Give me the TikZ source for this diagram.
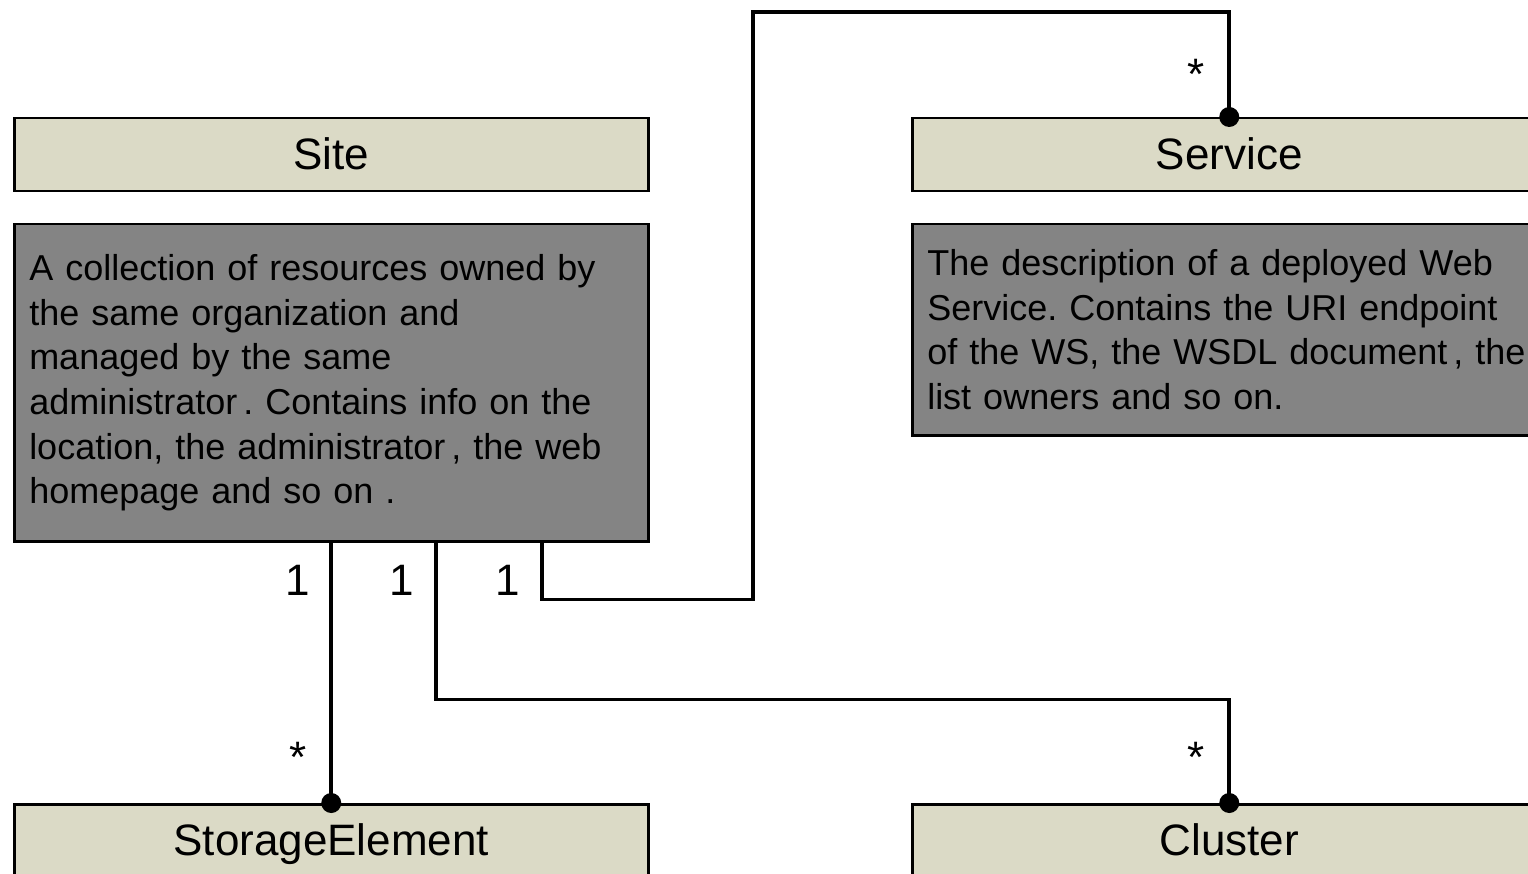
\documentclass[tikz,border=0pt]{standalone}
\usepackage{fontspec}
\setmainfont{Liberation Sans}
\frenchspacing
\definecolor{beige}{RGB}{219,218,198}
\definecolor{descgray}{RGB}{132,132,132}
\begin{document}
\begin{tikzpicture}[x=1pt,y=-1pt,
  classbox/.style={draw=black,line width=2.5pt,fill=beige,minimum width=634pt,minimum height=73pt,inner sep=0pt,text height=35pt,text depth=6pt,anchor=north west,font=\fontsize{44}{50}\selectfont},
  descbox/.style={draw=black,line width=2.5pt,fill=descgray,minimum width=634pt,inner xsep=15pt,inner ysep=0pt,text width=604pt,align=left,anchor=north west,font=\fontsize{36}{44.7}\selectfont},
  conn/.style={line width=3.8pt,line cap=rect},
  mult/.style={inner sep=0pt,font=\fontsize{44}{50}\selectfont},
  enddot/.style={fill=black}]
\useasboundingbox (0,0) rectangle (1528,874);
\clip (0,0) rectangle (1528,874);
\node[classbox] (site) at (13,117) {Site};
\node[descbox,minimum height=317pt] (sitedesc) at (13,223) {A collection of resources owned by\\the same organization and\\managed by the same\\administrator\,. Contains info on the\\location, the administrator\,, the web\\homepage and so on .};
\node[classbox] (service) at (911,117) {Service};
\node[descbox,minimum height=211pt] (servdesc) at (911,223) {The description of a deployed Web\\Service. Contains the URI endpoint\\of the WS, the WSDL document\,, the\\list owners and so on.};
\node[classbox] (se) at (13,803) {StorageElement};
\node[classbox] (cluster) at (911,803) {Cluster};
\coordinate (top) at (753,12);
\draw[conn] (sitedesc.south) -- (se.north);
\draw[conn] ([xshift=105pt]sitedesc.south) -- ++(0,157) -| (cluster.north);
\draw[conn] ([xshift=211pt]sitedesc.south) -- ++(0,57) -| (top) -| (service.north);
\fill[enddot] (se.north) circle (10pt);
\fill[enddot] (cluster.north) circle (10pt);
\fill[enddot] (service.north) circle (10pt);
\node[mult] (m1) at (298,580) {1};
\node[mult] (m2) at (402,580) {1};
\node[mult] (m3) at (508,580) {1};
\node[mult] (s1) at (298,757) {*};
\node[mult] (s2) at (1196,757) {*};
\node[mult] (s3) at (1196,74) {*};
\end{tikzpicture}
\end{document}
